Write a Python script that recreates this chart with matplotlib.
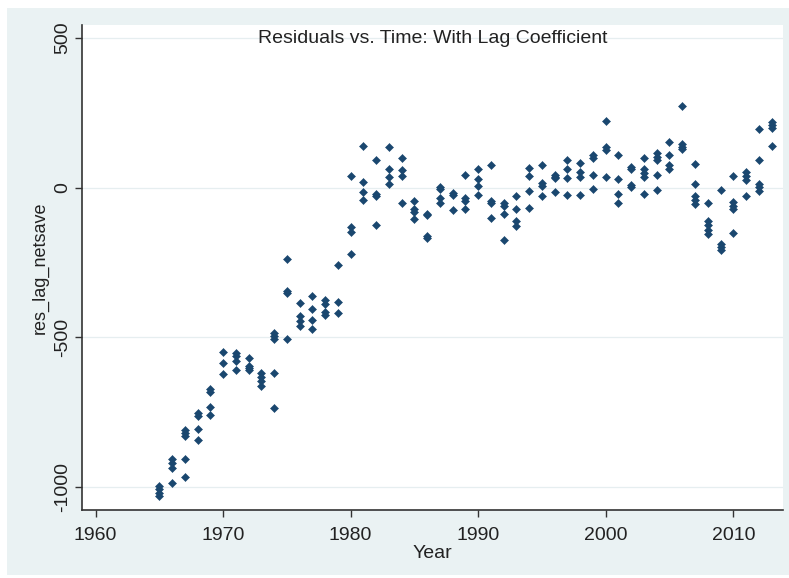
import matplotlib.pyplot as plt
from matplotlib.patches import Rectangle

plt.rcParams['font.family'] = ['Liberation Sans', 'DejaVu Sans']

# residuals, one list per year
years = list(range(1965, 2014))
res_by_year = [
    [-998, -1008, -1020, -1032],        # 1965
    [-908, -922, -936, -987],           # 1966
    [-810, -820, -830, -906, -968],     # 1967
    [-755, -765, -806, -844],           # 1968
    [-674, -684, -732, -760],           # 1969
    [-551, -586, -622],                 # 1970
    [-554, -564, -580, -609],           # 1971
    [-568, -596, -604, -611],           # 1972
    [-620, -633, -647, -664],           # 1973
    [-486, -497, -506, -619, -736],     # 1974
    [-237, -344, -352, -505],           # 1975
    [-387, -430, -445, -461],           # 1976
    [-362, -407, -443, -472],           # 1977
    [-377, -389, -417, -426],           # 1978
    [-258, -382, -418],                 # 1979
    [39, -133, -148, -223],             # 1980
    [140, 19, -14, -42],                # 1981
    [91, -20, -27, -126],               # 1982
    [136, 63, 34, 12],                  # 1983
    [100, 58, 40, -50],                 # 1984
    [-45, -73, -83, -104],              # 1985
    [-88, -93, -162, -167],             # 1986
    [2, -6, -36, -50],                  # 1987
    [-18, -25, -75],                    # 1988
    [44, -34, -44, -70],                # 1989
    [61, 30, 5, -25],                   # 1990
    [75, -44, -50, -103],               # 1991
    [-52, -60, -87, -174],              # 1992
    [-28, -73, -112, -128],             # 1993
    [65, 38, -10, -67],                 # 1994
    [75, 16, 4, -28],                   # 1995
    [43, 37, 32, -15],                  # 1996
    [93, 63, 33, -25],                  # 1997
    [82, 52, 35, -25],                  # 1998
    [110, 100, 41, -6],                 # 1999
    [223, 135, 126, 37],                # 2000
    [109, 30, -20, -51],                # 2001
    [70, 64, 8, 3],                     # 2002
    [100, 61, 48, 37, -20],             # 2003
    [115, 104, 94, 42, -9],             # 2004
    [154, 108, 75, 64],                 # 2005
    [273, 145, 136, 128],               # 2006
    [78, 11, -29, -42, -54],            # 2007
    [-50, -112, -126, -141, -155],      # 2008
    [-8, -190, -200, -210],             # 2009
    [39, -49, -60, -70, -152],          # 2010
    [54, 40, 24, -29],                  # 2011
    [197, 91, 13, 1, -10],              # 2012
    [218, 208, 200, 139],               # 2013
]

x_ticks = [1960, 1970, 1980, 1990, 2000, 2010]
y_ticks = [500, 0, -500, -1000]

xs, ys = [], []
for yr, vals in zip(years, res_by_year):
    for v in vals:
        xs.append(yr)
        ys.append(v)

W, H = 789, 578
fig = plt.figure(figsize=(W / 100, H / 100), dpi=100)
fig.patch.set_facecolor('white')
# stata-like graph region
fig.patches.append(Rectangle((7 / W, 3 / H), (W - 7) / W, (H - 11) / H,
                             transform=fig.transFigure, facecolor='#EAF2F3',
                             edgecolor='none', zorder=-10))

ax = fig.add_axes([82 / W, 1 - 510 / H, (783 - 82) / W, (510 - 25) / H])
ax.set_facecolor('white')

ax.plot(xs, ys, linestyle='none', marker='D', markersize=4.5,
        color='#1A476F', markeredgewidth=0.4, zorder=3)

ax.set_xlim(1958.94, 2013.9)
ax.set_ylim(-1078, 544)
ax.set_xticks(x_ticks)
ax.set_yticks(y_ticks)
ax.set_yticklabels([str(t) for t in y_ticks], rotation=90, va='center')
ax.tick_params(axis='both', direction='out', length=5, width=1.0,
               color='#333333', labelsize=14, labelcolor='#222222')
ax.tick_params(axis='x', pad=7)
ax.tick_params(axis='y', pad=3)
ax.grid(axis='y', color='#E6EEF0', linewidth=0.9, zorder=0)

for side in ['top', 'right']:
    ax.spines[side].set_visible(False)
for side in ['left', 'bottom']:
    ax.spines[side].set_color('#333333')
    ax.spines[side].set_linewidth(1.2)

ax.set_xlabel('Year', fontsize=14, color='#222222', labelpad=1)
ax.set_ylabel('res_lag_netsave', fontsize=13, color='#222222', labelpad=4)

ax.text(0.5, 0.973, 'Residuals vs. Time: With Lag Coefficient',
        transform=ax.transAxes, ha='center', va='center', fontsize=14,
        color='#222222')

plt.savefig('out.png', dpi=100, facecolor=fig.get_facecolor())
